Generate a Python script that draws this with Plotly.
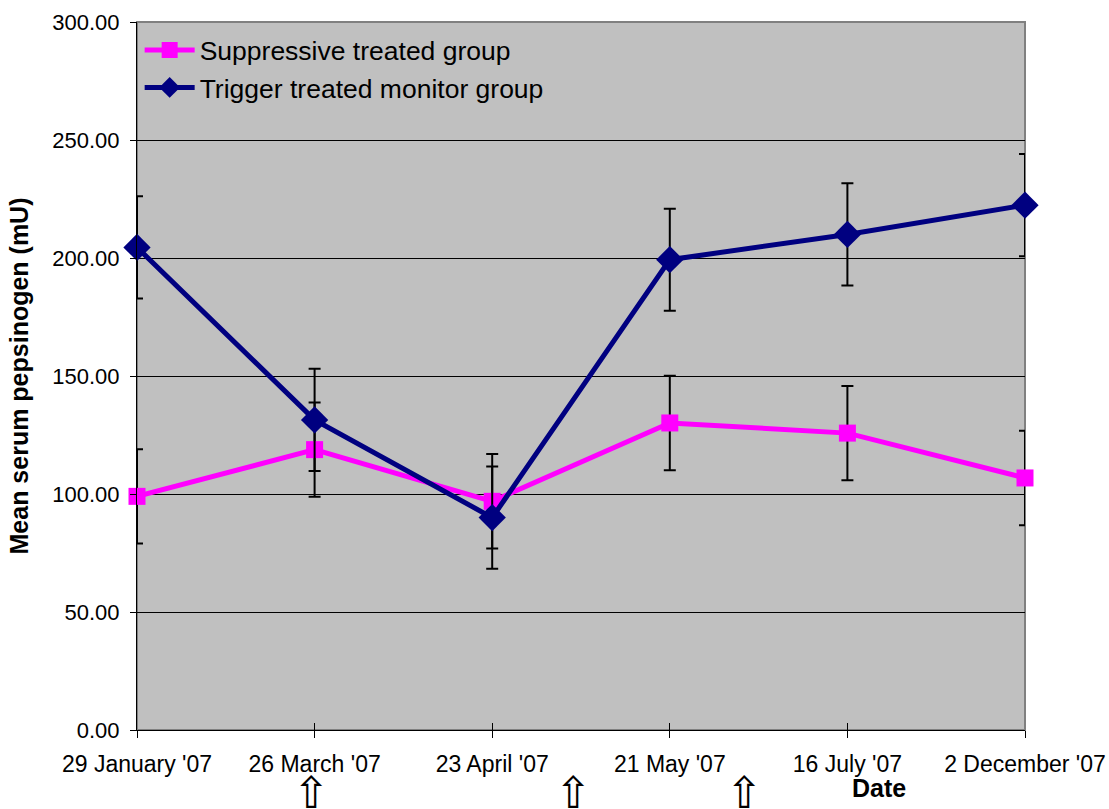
import plotly.graph_objects as go

# Sampling dates (categorical positions 0..5 along the x axis)
dates = ["29 January '07", "26 March '07", "23 April '07",
         "21 May '07", "16 July '07", "2 December '07"]
positions = [0, 1, 2, 3, 4, 5]

# Mean serum pepsinogen (mU) per group, with standard-error bars
suppressive = [99.0, 118.8, 96.9, 130.1, 125.8, 106.8]
suppressive_err = [20.0, 20.0, 20.0, 20.0, 20.0, 20.0]
trigger = [204.5, 131.4, 90.0, 199.3, 210.0, 222.4]
trigger_err = [21.7, 21.7, 21.7, 21.6, 21.7, 21.7]

# Treatment dates of the trigger group, marked under the axis (axis units)
treatment_marks = [0.985, 2.46, 3.42]

FONT = "Liberation Sans, Arial, sans-serif"

fig = go.Figure()

fig.add_trace(go.Scatter(
    x=positions, y=suppressive, name="Suppressive treated group",
    mode="lines+markers",
    line=dict(color="#FF00FF", width=5),
    marker=dict(symbol="square", size=17, color="#FF00FF"),
    error_y=dict(type="data", array=suppressive_err, color="black",
                 thickness=2, width=6),
    cliponaxis=False,
))
fig.add_trace(go.Scatter(
    x=positions, y=trigger, name="Trigger treated monitor group",
    mode="lines+markers",
    line=dict(color="#000080", width=5),
    marker=dict(symbol="diamond", size=21, color="#000080"),
    error_y=dict(type="data", array=trigger_err, color="black",
                 thickness=2, width=6),
    cliponaxis=False,
))

# Inner half of the crossing x ticks
fig.add_trace(go.Scatter(x=[0, 5], y=[None, None], xaxis="x2",
                         showlegend=False, hoverinfo="skip"))

annotations = [
    dict(text="⇧", x=xm, xref="x", y=-0.05, yref="paper",
         xanchor="center", yanchor="top", showarrow=False,
         font=dict(family="DejaVu Sans", size=44, color="black"))
    for xm in treatment_marks
]
annotations.append(dict(
    text="<b>Date</b>", x=(879 - 137) / (1025 - 137), xref="paper",
    y=-0.059, yref="paper", xanchor="center", yanchor="top",
    showarrow=False, font=dict(family=FONT, size=25, color="black"),
))

fig.update_layout(
    width=1109, height=809,
    margin=dict(l=137, r=84, t=22, b=79),
    paper_bgcolor="white",
    plot_bgcolor="#C0C0C0",
    font=dict(family=FONT, size=22, color="black"),
    showlegend=True,
    legend=dict(x=0.003, y=0.994, xanchor="left", yanchor="top",
                bgcolor="rgba(0,0,0,0)", borderwidth=0,
                font=dict(family=FONT, size=26.5, color="black"),
                itemwidth=50, tracegroupgap=0),
    xaxis=dict(
        range=[0, 5], tickmode="array", tickvals=positions, ticktext=dates,
        showgrid=False, zeroline=False, automargin=False,
        showline=True, linecolor="black", linewidth=1,
        ticks="outside", ticklen=7, tickcolor="black", tickwidth=1,
        tickfont=dict(family=FONT, size=23), ticklabelstandoff=6,
    ),
    xaxis2=dict(
        range=[0, 5], overlaying="x", tickmode="array", tickvals=positions,
        showticklabels=False, showgrid=False, zeroline=False,
        automargin=False,
        ticks="inside", ticklen=7, tickcolor="black", tickwidth=1,
        side="bottom", showline=False,
    ),
    yaxis=dict(
        range=[0, 300], tickmode="linear", tick0=0, dtick=50,
        tickformat=".2f", automargin=False,
        showgrid=True, gridcolor="black", gridwidth=1,
        zeroline=False,
        showline=True, linecolor="black", linewidth=1,
        ticks="outside", ticklen=6, tickcolor="black", tickwidth=1,
        tickfont=dict(family=FONT, size=22), ticklabelstandoff=6,
        title=dict(text="<b>Mean serum pepsinogen (mU)</b>",
                   font=dict(family=FONT, size=25), standoff=16),
    ),
    shapes=[dict(type="rect", xref="x domain", yref="y domain",
                 x0=0, x1=1, y0=0, y1=1,
                 line=dict(color="#808080", width=2), layer="below")],
    annotations=annotations,
)

fig.write_html("out.html")
